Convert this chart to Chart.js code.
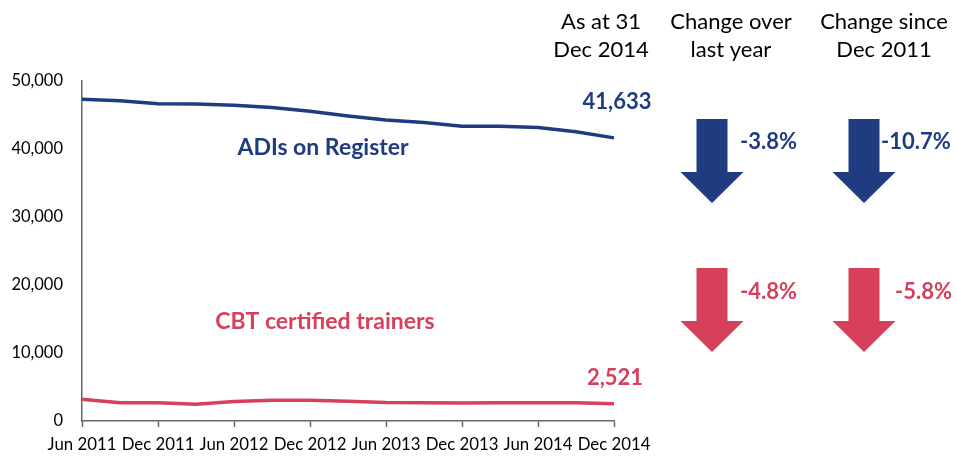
<!DOCTYPE html>
<html>
<head>
<meta charset="utf-8">
<script src="https://cdn.jsdelivr.net/npm/chart.js"></script>
<style>
  html, body { margin: 0; padding: 0; background: #fff; }
  #wrap { width: 956px; height: 456px; position: relative; }
</style>
</head>
<body>
<div id="wrap"><canvas id="c" width="956" height="456"></canvas></div>
<script>
// ---- data ----
const quarters = ['Jun 2011','Sep 2011','Dec 2011','Mar 2012','Jun 2012','Sep 2012','Dec 2012','Mar 2013',
                  'Jun 2013','Sep 2013','Dec 2013','Mar 2014','Jun 2014','Sep 2014','Dec 2014'];
const adis = [47300, 47100, 46650, 46600, 46450, 46100, 45550, 44850, 44250, 43900, 43350, 43350, 43150, 42550, 41633];
const cbt  = [3190, 2700, 2680, 2450, 2850, 3040, 3050, 2900, 2720, 2700, 2650, 2680, 2690, 2680, 2521];
const yTicks = [0, 10000, 20000, 30000, 40000, 50000];
const headers = [['As at 31', 'Dec 2014'], ['Change over', 'last year'], ['Change since', 'Dec 2011']];
const adisChanges = ['-3.8%', '-10.7%'];
const cbtChanges = ['-4.8%', '-5.8%'];
const seriesNames = ['ADIs on Register', 'CBT certified trainers'];

const BLUE = '#1F3C81';
const RED = '#D6405B';
const FONT = 'Lato, "Open Sans", sans-serif';

function drawArrow(ctx, cx, top, color) {
  const shaftHalf = 15.5, headHalf = 31.5, headStart = 53, tip = 84;
  ctx.fillStyle = color;
  ctx.beginPath();
  ctx.moveTo(cx - shaftHalf, top);
  ctx.lineTo(cx + shaftHalf, top);
  ctx.lineTo(cx + shaftHalf, top + headStart);
  ctx.lineTo(cx + headHalf, top + headStart);
  ctx.lineTo(cx, top + tip);
  ctx.lineTo(cx - headHalf, top + headStart);
  ctx.lineTo(cx - shaftHalf, top + headStart);
  ctx.closePath();
  ctx.fill();
}

const annot = {
  id: 'annot',
  afterDraw(chart) {
    const ctx = chart.ctx;
    const xs = chart.scales.x, ys = chart.scales.y;
    ctx.save();
    // headers
    ctx.fillStyle = '#000';
    ctx.font = '22px ' + FONT;
    ctx.textAlign = 'center';
    ctx.textBaseline = 'middle';
    const hx = [601, 731, 884];
    headers.forEach((h, i) => {
      ctx.fillText(h[0], hx[i], 22);
      ctx.fillText(h[1], hx[i], 50);
    });
    // end values
    const last = quarters.length - 1;
    const lx = xs.getPixelForValue(last);
    ctx.font = 'bold 22px ' + FONT;
    ctx.fillStyle = BLUE;
    ctx.fillText(adis[last].toLocaleString('en-US'), lx + 3, ys.getPixelForValue(adis[last]) - 36);
    ctx.fillStyle = RED;
    ctx.fillText(cbt[last].toLocaleString('en-US'), lx + 1, ys.getPixelForValue(cbt[last]) - 26);
    // series names
    ctx.font = 'bold 23px ' + FONT;
    ctx.fillStyle = BLUE;
    ctx.fillText(seriesNames[0], 323, 148);
    ctx.fillStyle = RED;
    ctx.fillText(seriesNames[1], 325, 322);
    // arrows
    const ax = [712, 864];
    ax.forEach(x => drawArrow(ctx, x, 119, BLUE));
    ax.forEach(x => drawArrow(ctx, x, 268, RED));
    ctx.textAlign = 'left';
    ctx.font = 'bold 22px ' + FONT;
    ctx.fillStyle = BLUE;
    ctx.fillText(adisChanges[0], 740, 142);
    ctx.fillText(adisChanges[1], 881, 142);
    ctx.fillStyle = RED;
    ctx.fillText(cbtChanges[0], 740, 292);
    ctx.fillText(cbtChanges[1], 895, 292);
    ctx.restore();
  }
};

new Chart(document.getElementById('c'), {
  type: 'line',
  data: {
    labels: quarters,
    datasets: [
      { label: seriesNames[0], data: adis, borderColor: BLUE, borderWidth: 3.5, pointRadius: 0, tension: 0, fill: false },
      { label: seriesNames[1], data: cbt, borderColor: RED, borderWidth: 3.5, pointRadius: 0, tension: 0, fill: false }
    ]
  },
  options: {
    responsive: false,
    animation: false,
    layout: { padding: { left: 0, right: 342, top: 81, bottom: 0 } },
    plugins: { legend: { display: false }, tooltip: { enabled: false } },
    scales: {
      x: {
        offset: false,
        grid: {
          display: true, drawOnChartArea: false, drawTicks: true, tickLength: 6,
          tickColor: c => (c.index % 2 === 0 ? '#666' : 'rgba(0,0,0,0)'),
          tickWidth: 1.5
        },
        border: { display: true, color: '#666', width: 1.5 },
        ticks: {
          autoSkip: false, maxRotation: 0, minRotation: 0, padding: 8,
          color: '#000', font: { family: FONT, size: 16.8 },
          callback: function (v, i) { return i % 2 === 0 ? quarters[i] : ''; }
        },
        afterFit: s => { s.height = 35; }
      },
      y: {
        min: 0, max: 50000,
        afterBuildTicks: s => { s.ticks = yTicks.map(v => ({ value: v })); },
        grid: { display: true, drawOnChartArea: false, drawTicks: false },
        border: { display: true, color: '#666', width: 1.5 },
        ticks: {
          padding: 19, color: '#000', font: { family: FONT, size: 16.5 },
          callback: v => v.toLocaleString('en-US')
        },
        afterFit: s => { s.width = 82; }
      }
    }
  },
  plugins: [annot]
});
</script>
</body>
</html>
